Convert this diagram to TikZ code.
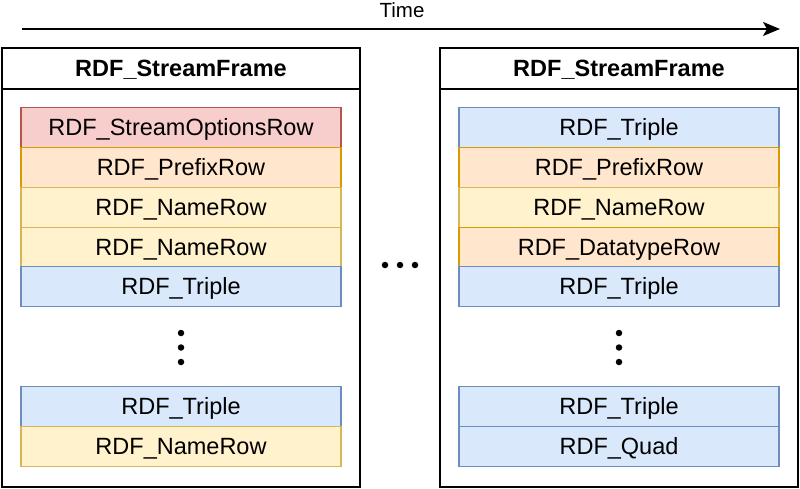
\documentclass[tikz,border=0pt]{standalone}
\usepackage{fontspec}
\setmainfont{Liberation Sans}
\usetikzlibrary{arrows.meta}
\definecolor{redF}{HTML}{F8CECC}\definecolor{redD}{HTML}{B85450}
\definecolor{oraF}{HTML}{FFE6CC}\definecolor{oraD}{HTML}{D79B00}
\definecolor{yelF}{HTML}{FFF2CC}\definecolor{yelD}{HTML}{D6B656}
\definecolor{bluF}{HTML}{DAE8FC}\definecolor{bluD}{HTML}{6C8EBF}
\tikzset{
  frame/.style={draw=black, line width=1.8pt, fill=white},
  rowbox/.style={line width=1.4pt, minimum width=320pt, minimum height=40pt, inner sep=0pt, font=\fontsize{23.5}{26}\selectfont, anchor=north, text height=18pt, text depth=2pt},
  opt/.style={rowbox, fill=redF, draw=redD},
  pre/.style={rowbox, fill=oraF, draw=oraD},
  nam/.style={rowbox, fill=yelF, draw=yelD},
  tri/.style={rowbox, fill=bluF, draw=bluD},
  ttl/.style={font=\bfseries\fontsize{23.5}{26}\selectfont},
  dot/.style={circle, fill=black, inner sep=0pt, minimum size=6.5pt},
}
\begin{document}
\begin{tikzpicture}[x=1pt,y=-1pt]
\useasboundingbox (0,0) rectangle (800,489);
% time arrow
\coordinate (ta) at (22,29);
\coordinate (tb) at (780,29);
\draw[line width=1.6pt, -{Stealth[length=17pt,width=14pt,inset=4pt]}] (ta) -- (tb);
\node[font=\fontsize{20.5}{22}\selectfont] (time) at (402,10) {Time};
% left frame
\draw[frame] (2,48) rectangle (360,487);
\draw[line width=1.8pt] (2,89) -- (360,89);
\node[ttl] (t1) at (181,70) {RDF\_StreamFrame};
\node[opt] (l1) at (181,107) {RDF\_StreamOptionsRow};
\node[pre] (l2) at (181,147) {RDF\_PrefixRow};
\node[nam] (l3) at (181,187) {RDF\_NameRow};
\node[nam] (l4) at (181,227) {RDF\_NameRow};
\node[tri] (l5) at (181,266) {RDF\_Triple};
\node[dot] (ld1) at (181,333) {};
\node[dot] (ld2) at (181,347.5) {};
\node[dot] (ld3) at (181,362) {};
\node[tri] (l6) at (181,386) {RDF\_Triple};
\node[nam] (l7) at (181,426) {RDF\_NameRow};
% right frame
\draw[frame] (440,48) rectangle (798,487);
\draw[line width=1.8pt] (440,89) -- (798,89);
\node[ttl] (t2) at (619,70) {RDF\_StreamFrame};
\node[tri] (r1) at (619,107) {RDF\_Triple};
\node[pre] (r2) at (619,147) {RDF\_PrefixRow};
\node[nam] (r3) at (619,187) {RDF\_NameRow};
\node[pre] (r4) at (619,227) {RDF\_DatatypeRow};
\node[tri] (r5) at (619,266) {RDF\_Triple};
\node[dot] (rd1) at (619,333) {};
\node[dot] (rd2) at (619,347.5) {};
\node[dot] (rd3) at (619,362) {};
\node[tri] (r6) at (619,386) {RDF\_Triple};
\node[tri] (r7) at (619,426) {RDF\_Quad};
% middle dots
\node[dot] (m1) at (385,265) {};
\node[dot] (m2) at (400,265) {};
\node[dot] (m3) at (415,265) {};
\end{tikzpicture}
\end{document}
